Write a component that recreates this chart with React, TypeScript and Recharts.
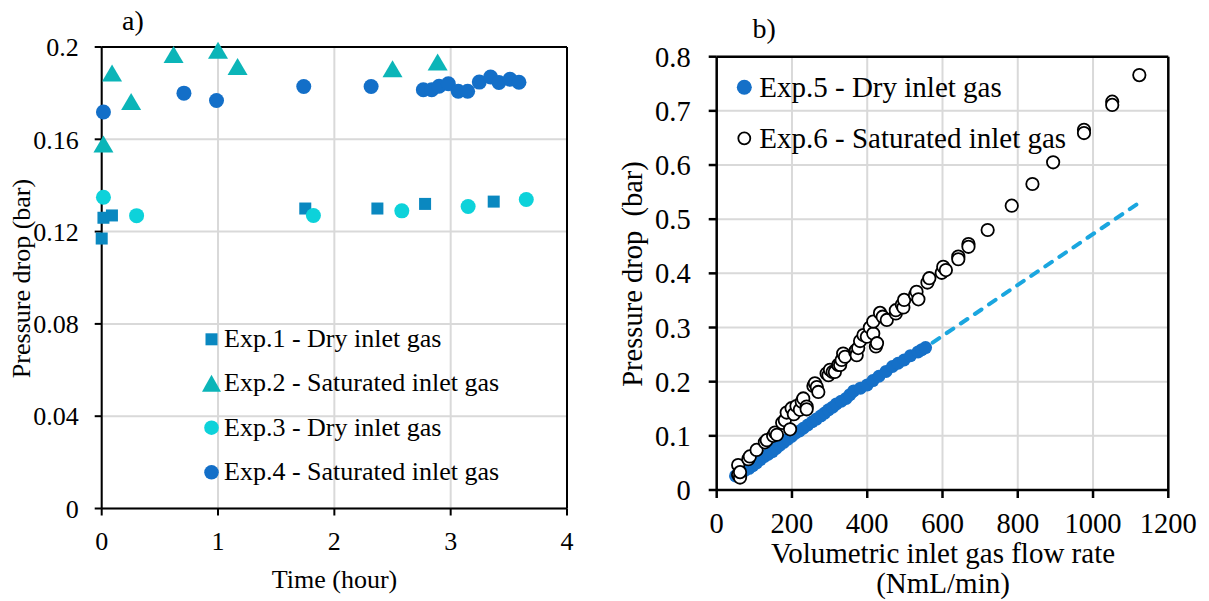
import React from 'react';
import { ScatterChart, Scatter, XAxis, YAxis, CartesianGrid, ReferenceLine } from 'recharts';

const FONT = 'Liberation Serif';

// ---------- Panel a) ----------
const timeTicks = [0, 1, 2, 3, 4];
const dropTicksA = [0, 0.04, 0.08, 0.12, 0.16, 0.2];

const exp1Time = [0, 0.015, 0.088, 1.75, 2.37, 2.78, 3.37];
const exp1Drop = [0.117, 0.126, 0.127, 0.13, 0.13, 0.132, 0.133];

const exp2Time = [0.015, 0.089, 0.253, 0.618, 1.0, 1.168, 2.5, 2.888];
const exp2Drop = [0.158, 0.1887, 0.1764, 0.1967, 0.1986, 0.1916, 0.1906, 0.1935];

const exp3Time = [0.015, 0.3, 1.82, 2.58, 3.15, 3.65];
const exp3Drop = [0.1349, 0.1269, 0.127, 0.129, 0.1309, 0.1339];

const exp4Time = [0.015, 0.707, 0.987, 1.737, 2.316, 2.765, 2.837, 2.9, 2.98, 3.065, 3.146, 3.246, 3.343, 3.415, 3.51, 3.587];
const exp4Drop = [0.1718, 0.18, 0.1768, 0.1829, 0.1829, 0.1815, 0.1815, 0.183, 0.1841, 0.1808, 0.1808, 0.1848, 0.187, 0.1846, 0.186, 0.1847];

const legendA = [
  'Exp.1 - Dry inlet gas',
  'Exp.2 - Saturated inlet gas',
  'Exp.3 - Dry inlet gas',
  'Exp.4 - Saturated inlet gas',
];
const colorsA = ['#0A88C0', '#0BB5B8', '#0DD2DA', '#136FC8'];

// ---------- Panel b) ----------
const flowTicks = [0, 200, 400, 600, 800, 1000, 1200];
const dropTicksB = [0, 0.1, 0.2, 0.3, 0.4, 0.5, 0.6, 0.7, 0.8];

const exp5Flow = [50, 57, 65, 75, 86, 96, 106, 116, 127, 137, 148, 158, 168, 178, 189, 199, 209, 220, 230, 242, 254, 265, 277, 287, 297, 308, 318, 331, 344, 354, 364, 382, 400, 415, 431, 450, 467, 482, 498, 515, 535, 545, 555];
const exp5Drop = [0.026, 0.029, 0.031, 0.036, 0.04, 0.045, 0.05, 0.056, 0.062, 0.066, 0.071, 0.077, 0.083, 0.088, 0.094, 0.099, 0.105, 0.109, 0.114, 0.12, 0.126, 0.131, 0.137, 0.142, 0.148, 0.153, 0.159, 0.164, 0.169, 0.176, 0.183, 0.188, 0.194, 0.202, 0.21, 0.219, 0.228, 0.234, 0.24, 0.248, 0.255, 0.259, 0.263];

const exp6Flow = [57, 57, 62, 62, 84, 88, 106, 128, 133, 150, 155, 160, 174, 181, 186, 195, 199, 205, 212, 221, 226, 230, 239, 239, 257, 261, 266, 270, 292, 297, 301, 308, 314, 323, 328, 332, 336, 341, 368, 370, 372, 376, 381, 390, 399, 407, 416, 416, 423, 426, 434, 441, 452, 476, 476, 492, 496, 498, 527, 531, 536, 560, 565, 598, 602, 609, 642, 642, 669, 669, 720, 784, 839, 894, 976, 976, 1051, 1051, 1123];
const exp6Drop = [0.046, 0.028, 0.023, 0.033, 0.057, 0.062, 0.074, 0.088, 0.092, 0.1, 0.106, 0.102, 0.124, 0.129, 0.143, 0.112, 0.151, 0.14, 0.155, 0.148, 0.163, 0.169, 0.154, 0.149, 0.192, 0.197, 0.19, 0.181, 0.215, 0.212, 0.222, 0.218, 0.218, 0.231, 0.231, 0.24, 0.252, 0.246, 0.255, 0.258, 0.249, 0.262, 0.275, 0.286, 0.283, 0.3, 0.289, 0.311, 0.265, 0.271, 0.327, 0.32, 0.314, 0.326, 0.332, 0.342, 0.337, 0.351, 0.36, 0.366, 0.352, 0.383, 0.391, 0.401, 0.412, 0.406, 0.431, 0.426, 0.454, 0.449, 0.48, 0.525, 0.565, 0.605, 0.665, 0.659, 0.717, 0.711, 0.766];

const trendFlow = [50, 1120];
const trendDrop = [0.026, 0.529];

const legendB = ['Exp.5 - Dry inlet gas', 'Exp.6 - Saturated inlet gas'];
const colorsB = ['#1570C8', '#000000'];
const trendColor = '#1AA6DF';

const zip = (xs: number[], ys: number[]) => xs.map((x, i) => ({ x, y: ys[i] }));

// ---------- marker shapes ----------
const squareShape = (color: string, s: number) => (p: any) =>
  <rect x={p.cx - s / 2} y={p.cy - s / 2} width={s} height={s} fill={color} />;
const triangleShape = (color: string, w: number, h: number) => (p: any) =>
  <polygon points={`${p.cx},${p.cy - h / 2} ${p.cx - w / 2},${p.cy + h / 2} ${p.cx + w / 2},${p.cy + h / 2}`} fill={color} />;
const circleShape = (color: string, r: number) => (p: any) =>
  <circle cx={p.cx} cy={p.cy} r={r} fill={color} />;
const openCircleShape = (r: number) => (p: any) =>
  <circle cx={p.cx} cy={p.cy} r={r} fill="#fff" stroke="#000" strokeWidth={1.8} />;
const noShape = () => <g />;

const tickA = { fontSize: 26, fill: '#000', fontFamily: FONT, style: { fontFamily: FONT } };
const tickB = { fontSize: 28.5, fill: '#000', fontFamily: FONT, style: { fontFamily: FONT } };
const txt = { fontFamily: FONT };

export default function App() {
  return (
    <div style={{ position: 'absolute', left: 0, top: 0, width: 1209, height: 601, background: '#fff', fontFamily: FONT, overflow: 'hidden' }}>
      <div style={{ position: 'absolute', left: 0, top: 0 }}>
        <ScatterChart width={600} height={601} margin={{ top: 47, right: 33, bottom: 62.5, left: 41.7 }} style={{ fontFamily: FONT }}>
          <CartesianGrid stroke="#D9D9D9" strokeWidth={2} />
          <XAxis type="number" dataKey="x" domain={[0, 4]} ticks={timeTicks} interval={0} height={30}
            tickSize={7} tickMargin={16} axisLine={{ stroke: '#000', strokeWidth: 2 }} tickLine={{ stroke: '#000', strokeWidth: 2 }} tick={tickA} />
          <YAxis type="number" dataKey="y" domain={[0, 0.2]} ticks={dropTicksA} interval={0} width={60}
            tickSize={7} tickMargin={16} axisLine={{ stroke: '#000', strokeWidth: 2 }} tickLine={{ stroke: '#000', strokeWidth: 2 }} tick={tickA} />
          <ReferenceLine y={0.2} stroke="#000" strokeWidth={2} />
          <ReferenceLine x={4} stroke="#000" strokeWidth={2} />
          <Scatter name={legendA[0]} data={zip(exp1Time, exp1Drop)} shape={squareShape(colorsA[0], 12)} isAnimationActive={false} />
          <Scatter name={legendA[1]} data={zip(exp2Time, exp2Drop)} shape={triangleShape(colorsA[1], 20, 17)} isAnimationActive={false} />
          <Scatter name={legendA[2]} data={zip(exp3Time, exp3Drop)} shape={circleShape(colorsA[2], 7.5)} isAnimationActive={false} />
          <Scatter name={legendA[3]} data={zip(exp4Time, exp4Drop)} shape={circleShape(colorsA[3], 7.5)} isAnimationActive={false} />
        </ScatterChart>
      </div>
      <div style={{ position: 'absolute', left: 600, top: 0 }}>
        <ScatterChart width={609} height={601} margin={{ top: 56.7, right: 40.7, bottom: 81, left: 56.7 }} style={{ fontFamily: FONT }}>
          <CartesianGrid stroke="#D9D9D9" strokeWidth={2} />
          <XAxis type="number" dataKey="x" domain={[0, 1200]} ticks={flowTicks} interval={0} height={30}
            tickSize={8} tickMargin={15} axisLine={{ stroke: '#000', strokeWidth: 2.5 }} tickLine={{ stroke: '#000', strokeWidth: 2.5 }} tick={tickB} />
          <YAxis type="number" dataKey="y" domain={[0, 0.8]} ticks={dropTicksB} interval={0} width={60}
            tickSize={8} tickMargin={18} axisLine={{ stroke: '#000', strokeWidth: 2.5 }} tickLine={{ stroke: '#000', strokeWidth: 2.5 }} tick={tickB} />
          <ReferenceLine y={0.8} stroke="#000" strokeWidth={2.5} />
          <ReferenceLine x={1200} stroke="#000" strokeWidth={2.5} />
          <Scatter name="trend" data={zip(trendFlow, trendDrop)} legendType="none" shape={noShape}
            line={{ stroke: trendColor, strokeWidth: 4, strokeDasharray: '8 9', strokeLinecap: 'round' }} isAnimationActive={false} />
          <Scatter name={legendB[0]} data={zip(exp5Flow, exp5Drop)} shape={circleShape(colorsB[0], 6.5)} isAnimationActive={false} />
          <Scatter name={legendB[1]} data={zip(exp6Flow, exp6Drop)} shape={openCircleShape(6.2)} isAnimationActive={false} />
        </ScatterChart>
      </div>
      <svg width={1209} height={601} style={{ position: 'absolute', left: 0, top: 0, pointerEvents: 'none', fontFamily: FONT }}>
        <g fontFamily={FONT} fill="#000" style={txt}>
          {/* titles */}
          <text x={122} y={30} fontSize={28}>a)</text>
          <text x={752.5} y={37.5} fontSize={28}>b)</text>
          {/* axis titles panel a */}
          <text transform="translate(30,278.5) rotate(-90)" textAnchor="middle" fontSize={26}>Pressure drop (bar)</text>
          <text x={334.5} y={588} textAnchor="middle" fontSize={26}>Time (hour)</text>
          {/* axis titles panel b */}
          <text transform="translate(642,274) rotate(-90)" textAnchor="middle" fontSize={28.5} style={{ whiteSpace: 'pre', fontFamily: FONT }}>Pressure drop  (bar)</text>
          <text x={943} y={563} textAnchor="middle" fontSize={29}>Volumetric inlet gas flow rate</text>
          <text x={943} y={593} textAnchor="middle" fontSize={29}>(NmL/min)</text>
          {/* legend panel a */}
          <rect x={211.5 - 6} y={339.3 - 6} width={12} height={12} fill={colorsA[0]} />
          <text x={224} y={347.3} fontSize={26}>{legendA[0]}</text>
          <polygon points={`211.5,${383.3 - 8.5} ${211.5 - 9.5},${383.3 + 8.5} ${211.5 + 9.5},${383.3 + 8.5}`} fill={colorsA[1]} />
          <text x={224} y={391.3} fontSize={26}>{legendA[1]}</text>
          <circle cx={211.5} cy={427.7} r={7.3} fill={colorsA[2]} />
          <text x={224} y={435.7} fontSize={26}>{legendA[2]}</text>
          <circle cx={211.5} cy={472.3} r={7.3} fill={colorsA[3]} />
          <text x={224} y={480.3} fontSize={26}>{legendA[3]}</text>
          {/* legend panel b */}
          <circle cx={744.3} cy={87.3} r={7.5} fill={colorsB[0]} />
          <text x={759.3} y={96.7} fontSize={29}>{legendB[0]}</text>
          <circle cx={744.3} cy={138.3} r={6} fill="#fff" stroke="#000" strokeWidth={1.8} />
          <text x={759.3} y={147.7} fontSize={29}>{legendB[1]}</text>
        </g>
      </svg>
    </div>
  );
}
